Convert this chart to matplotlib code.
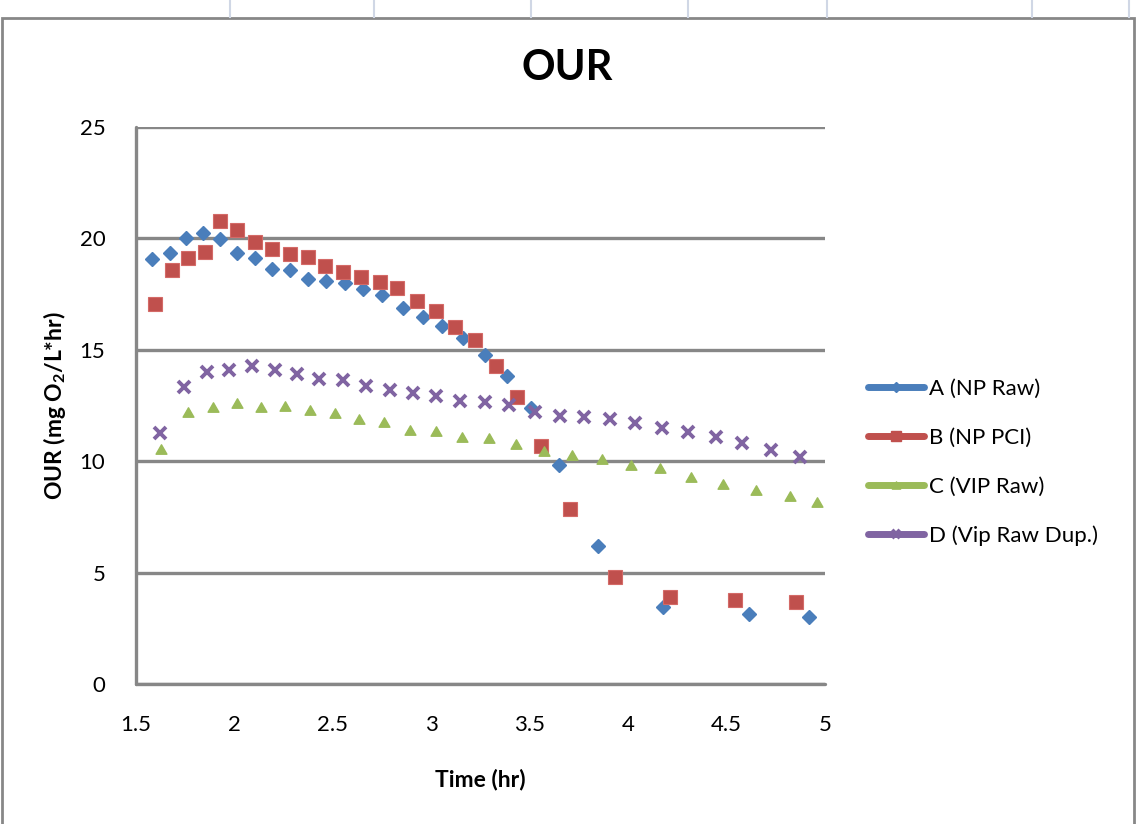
import matplotlib
matplotlib.use("Agg")
import matplotlib.pyplot as plt
from matplotlib.lines import Line2D
from matplotlib.patches import Rectangle
from matplotlib.path import Path

plt.rcParams["font.family"] = ["Lato", "DejaVu Sans"]
plt.rcParams["mathtext.fontset"] = "custom"
plt.rcParams["mathtext.rm"] = "Lato:bold"
plt.rcParams["mathtext.bf"] = "Lato:bold"

# ---- data -------------------------------------------------------------
a_time = [1.583, 1.671, 1.755, 1.840, 1.926, 2.014, 2.103, 2.192, 2.280, 2.373,
          2.466, 2.561, 2.654, 2.752, 2.854, 2.958, 3.054, 3.161, 3.272, 3.384,
          3.506, 3.650, 3.849, 4.177, 4.613, 4.921]
a_our = [19.06, 19.36, 20.03, 20.26, 19.96, 19.36, 19.11, 18.64, 18.58, 18.16,
         18.10, 17.98, 17.72, 17.47, 16.86, 16.46, 16.08, 15.54, 14.75, 13.82,
         12.37, 9.83, 6.21, 3.44, 3.13, 2.99]

b_time = [1.596, 1.681, 1.765, 1.850, 1.926, 2.014, 2.106, 2.192, 2.282, 2.375,
          2.459, 2.549, 2.641, 2.739, 2.828, 2.928, 3.026, 3.123, 3.222, 3.327,
          3.437, 3.557, 3.707, 3.932, 4.214, 4.544, 4.854]
b_our = [17.04, 18.58, 19.11, 19.38, 20.78, 20.38, 19.82, 19.54, 19.29, 19.18,
         18.76, 18.49, 18.25, 18.06, 17.76, 17.18, 16.74, 16.02, 15.42, 14.26,
         12.90, 10.70, 7.85, 4.82, 3.92, 3.76, 3.67]

c_time = [1.627, 1.765, 1.889, 2.011, 2.133, 2.258, 2.383, 2.509, 2.633, 2.760,
          2.892, 3.023, 3.156, 3.295, 3.430, 3.574, 3.717, 3.866, 4.013, 4.161,
          4.321, 4.483, 4.651, 4.823, 4.958]
c_our = [10.55, 12.22, 12.45, 12.60, 12.45, 12.48, 12.30, 12.18, 11.89, 11.77,
         11.41, 11.37, 11.07, 11.03, 10.77, 10.47, 10.26, 10.09, 9.82, 9.69,
         9.29, 8.99, 8.69, 8.45, 8.18]

d_time = [1.622, 1.745, 1.860, 1.974, 2.090, 2.206, 2.316, 2.429, 2.549, 2.669,
          2.789, 2.908, 3.026, 3.146, 3.272, 3.395, 3.525, 3.652, 3.776, 3.906,
          4.037, 4.172, 4.306, 4.444, 4.580, 4.725, 4.871]
d_our = [11.25, 13.34, 14.02, 14.08, 14.27, 14.08, 13.90, 13.70, 13.64, 13.37,
         13.20, 13.06, 12.93, 12.70, 12.67, 12.54, 12.21, 12.04, 11.97, 11.88,
         11.70, 11.48, 11.31, 11.09, 10.83, 10.50, 10.19]

series_names = ["A (NP Raw)", "B (NP PCI)", "C (VIP Raw)", "D (Vip Raw Dup.)"]
x_ticks = [1.5, 2, 2.5, 3, 3.5, 4, 4.5, 5]
x_tick_labels = ["1.5", "2", "2.5", "3", "3.5", "4", "4.5", "5"]
y_ticks = [0, 5, 10, 15, 20, 25]

# ---- styling ----------------------------------------------------------
BLUE = "#4A7EBB"
RED = "#C0504D"
GREEN = "#9BBB59"
PURPLE = "#8064A2"
GRAY = "#878787"

triangle = Path([(0, 0.87), (-1, -0.87), (1, -0.87), (0, 0.87)],
                [Path.MOVETO, Path.LINETO, Path.LINETO, Path.CLOSEPOLY])

W, H = 1136, 824
fig = plt.figure(figsize=(W / 100, H / 100), dpi=100)
fig.patch.set_facecolor("white")

# spreadsheet cell lines above the chart frame
for gx in [230, 374, 531, 688, 827, 1032, 1129]:
    fig.add_artist(Line2D([gx / W, gx / W], [1 - 17 / H, 1.0],
                          transform=fig.transFigure, color="#D0D7E5", lw=1.5))
# chart frame
fig.add_artist(Rectangle((1.5 / W, -0.05), (1134 - 1.5) / W, (1 - 18 / H) + 0.05,
                         transform=fig.transFigure, fill=False,
                         edgecolor=GRAY, lw=2.0))

ax = fig.add_axes([136 / W, (H - 684) / H, (825 - 136) / W, (684 - 127) / H])
ax.set_xlim(1.5, 5)
ax.set_ylim(0, 25)

ax.plot(a_time, a_our, ls="none", marker="D", ms=6.8, color=BLUE, mec=BLUE,
        zorder=3)
ax.plot(b_time, b_our, ls="none", marker="s", ms=9.8, color=RED, mec="#D46A67",
        mew=0.8, zorder=3)
ax.plot(c_time, c_our, ls="none", marker=triangle, ms=7.8, color=GREEN,
        mec=GREEN, zorder=3)
ax.plot(d_time, d_our, ls="none", marker="x", ms=8.4, mew=2.8, color=PURPLE,
        zorder=4)

ax.set_xticks(x_ticks)
ax.set_xticklabels(x_tick_labels)
ax.set_yticks(y_ticks)
ax.tick_params(axis="both", length=0, labelsize=16, colors="black")
ax.tick_params(axis="x", pad=22)
ax.tick_params(axis="y", pad=22)

ax.grid(axis="y", color=GRAY, lw=2.4, zorder=1)
ax.set_axisbelow(True)
for side in ["top", "right"]:
    ax.spines[side].set_visible(False)
for side in ["left", "bottom"]:
    ax.spines[side].set_color(GRAY)
    ax.spines[side].set_linewidth(2.4)
    ax.spines[side].set_capstyle("round")

ax.set_xlabel("Time (hr)", fontsize=16.5, fontweight="bold")
ax.xaxis.set_label_coords(0.5, (684 - 780) / (684 - 127))
ax.xaxis.label.set_va("center")
ax.set_ylabel(r"OUR (mg O$_\mathrm{2}$/L*hr)", fontsize=16.5, fontweight="bold")
ax.yaxis.set_label_coords((54 - 136) / (825 - 136), 0.5)
ax.yaxis.label.set_va("center")

fig.text(567 / W, 1 - 68 / H, "OUR", ha="center", va="center",
         fontsize=30, fontweight="bold")

handles = [
    Line2D([], [], color=BLUE, lw=5, marker="D", ms=5.5, solid_capstyle="round"),
    Line2D([], [], color=RED, lw=5, marker="s", ms=7.5, solid_capstyle="round"),
    Line2D([], [], color=GREEN, lw=5, marker=triangle, ms=6, solid_capstyle="round"),
    Line2D([], [], color=PURPLE, lw=5, marker="x", ms=6, mew=3,
           solid_capstyle="round"),
]
fig.legend(handles, series_names, loc="center left",
           bbox_to_anchor=(868 / W, 1 - 462.5 / H), frameon=False,
           fontsize=16, handlelength=2.5, handletextpad=0.25,
           labelspacing=1.3, borderpad=0, borderaxespad=0)

fig.savefig("out.png", dpi=100, facecolor="white")
